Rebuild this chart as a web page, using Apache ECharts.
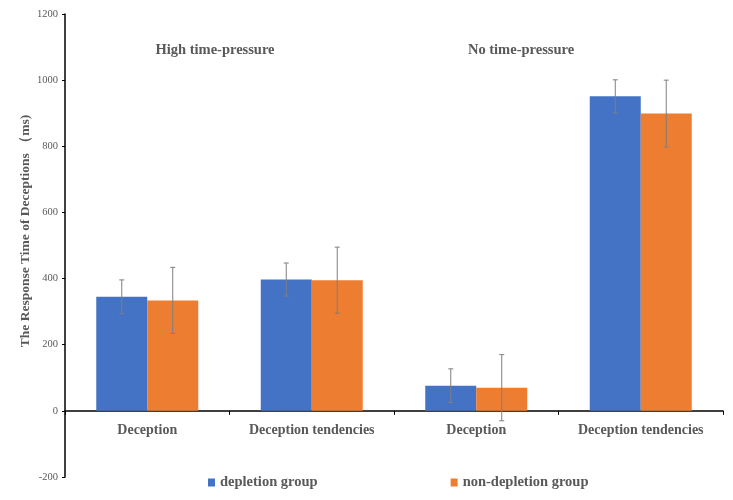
<!DOCTYPE html>
<html>
<head>
<meta charset="utf-8">
<script src="https://cdn.jsdelivr.net/npm/echarts@6/dist/echarts.min.js"></script>
<style>html,body{margin:0;padding:0;background:#fff}#c{width:733px;height:500px}</style>
</head>
<body>
<div id="c"></div>
<script>
var categories = ['Deception', 'Deception tendencies', 'Deception', 'Deception tendencies'];
var groupLabels = ['High time-pressure', 'No time-pressure'];
var depletion = [345, 397, 76, 951];
var depletionErr = [51, 50, 51, 50];
var nonDepletion = [334, 395, 70, 899];
var nonDepletionErr = [100, 100, 100, 101];
var yTicks = { min: -200, max: 1200, interval: 200 };

var FONT = '"Liberation Serif", "Times New Roman", serif';
var TXT = '#595959';
var BAR_FRAC = 0.31; // each bar width as a fraction of band
var GRID = { left: 65, right: 10, top: 14, bottom: 23 };
var plotH = 500 - GRID.top - GRID.bottom;
var zeroOffset = -plotH * (0 - yTicks.min) / (yTicks.max - yTicks.min);

function errData(vals, errs) {
  return vals.map(function (v, i) { return [i, v - errs[i], v + errs[i]]; });
}
function errSeries(name, vals, errs, side) {
  return {
    type: 'custom',
    name: name + ' err',
    z: 10,
    silent: true,
    data: errData(vals, errs),
    encode: { x: 0, y: [1, 2] },
    renderItem: function (params, api) {
      var band = api.size([1, 0])[0];
      var off = side * band * BAR_FRAC / 2;
      var lo = api.coord([api.value(0), api.value(1)]);
      var hi = api.coord([api.value(0), api.value(2)]);
      var x = lo[0] + off;
      var cap = 2.5;
      var st = { stroke: '#7f7f7f', lineWidth: 1 };
      return {
        type: 'group',
        children: [
          { type: 'line', shape: { x1: x, y1: lo[1], x2: x, y2: hi[1] }, style: st },
          { type: 'line', shape: { x1: x - cap, y1: hi[1], x2: x + cap, y2: hi[1] }, style: st },
          { type: 'line', shape: { x1: x - cap, y1: lo[1], x2: x + cap, y2: lo[1] }, style: st }
        ]
      };
    }
  };
}

var chart = echarts.init(document.getElementById('c'));
chart.setOption({
  animation: false,
  grid: { left: GRID.left, right: GRID.right, top: GRID.top, bottom: GRID.bottom, containLabel: false },
  legend: {
    data: ['depletion group', 'non-depletion group'],
    left: 203, top: 470,
    icon: 'rect', itemWidth: 7, itemHeight: 8, itemGap: 133,
    textStyle: { fontFamily: FONT, fontWeight: 'bold', fontSize: 14.5, color: TXT }
  },
  xAxis: {
    type: 'category',
    data: categories,
    offset: zeroOffset,
    axisLine: { onZero: false, lineStyle: { color: '#000', width: 1.5 } },
    axisTick: { show: true, alignWithLabel: false, length: 4, lineStyle: { color: '#000' } },
    axisLabel: { fontFamily: FONT, fontWeight: 'bold', fontSize: 14, color: TXT, margin: 13, interval: 0 }
  },
  yAxis: {
    type: 'value',
    min: yTicks.min, max: yTicks.max, interval: yTicks.interval,
    splitLine: { show: false },
    axisLine: { show: true, lineStyle: { color: '#000', width: 1.5 } },
    axisTick: { show: true, length: 3, lineStyle: { color: '#000' } },
    axisLabel: { fontFamily: FONT, fontSize: 10.5, color: TXT, margin: 7, formatter: function (v) { return String(v); } }
  },
  graphic: [
    { type: 'text', x: 26, y: 231, rotation: Math.PI / 2,
      style: { text: 'The Response Time of Deceptions （ms)', fontFamily: FONT, fontWeight: 'bold', fontSize: 13.5, fill: TXT, textAlign: 'center', textVerticalAlign: 'middle' } },
    { type: 'text', x: 215, y: 50,
      style: { text: groupLabels[0], fontFamily: FONT, fontWeight: 'bold', fontSize: 14.5, fill: TXT, textAlign: 'center', textVerticalAlign: 'middle' } },
    { type: 'text', x: 521, y: 50,
      style: { text: groupLabels[1], fontFamily: FONT, fontWeight: 'bold', fontSize: 14.5, fill: TXT, textAlign: 'center', textVerticalAlign: 'middle' } }
  ],
  series: [
    { type: 'bar', name: 'depletion group', data: depletion, itemStyle: { color: '#4472C4' }, barGap: '0%', barCategoryGap: '38%' },
    { type: 'bar', name: 'non-depletion group', data: nonDepletion, itemStyle: { color: '#ED7D31' }, barGap: '0%', barCategoryGap: '38%' },
    errSeries('depletion group', depletion, depletionErr, -1),
    errSeries('non-depletion group', nonDepletion, nonDepletionErr, 1)
  ]
});
</script>
</body>
</html>
